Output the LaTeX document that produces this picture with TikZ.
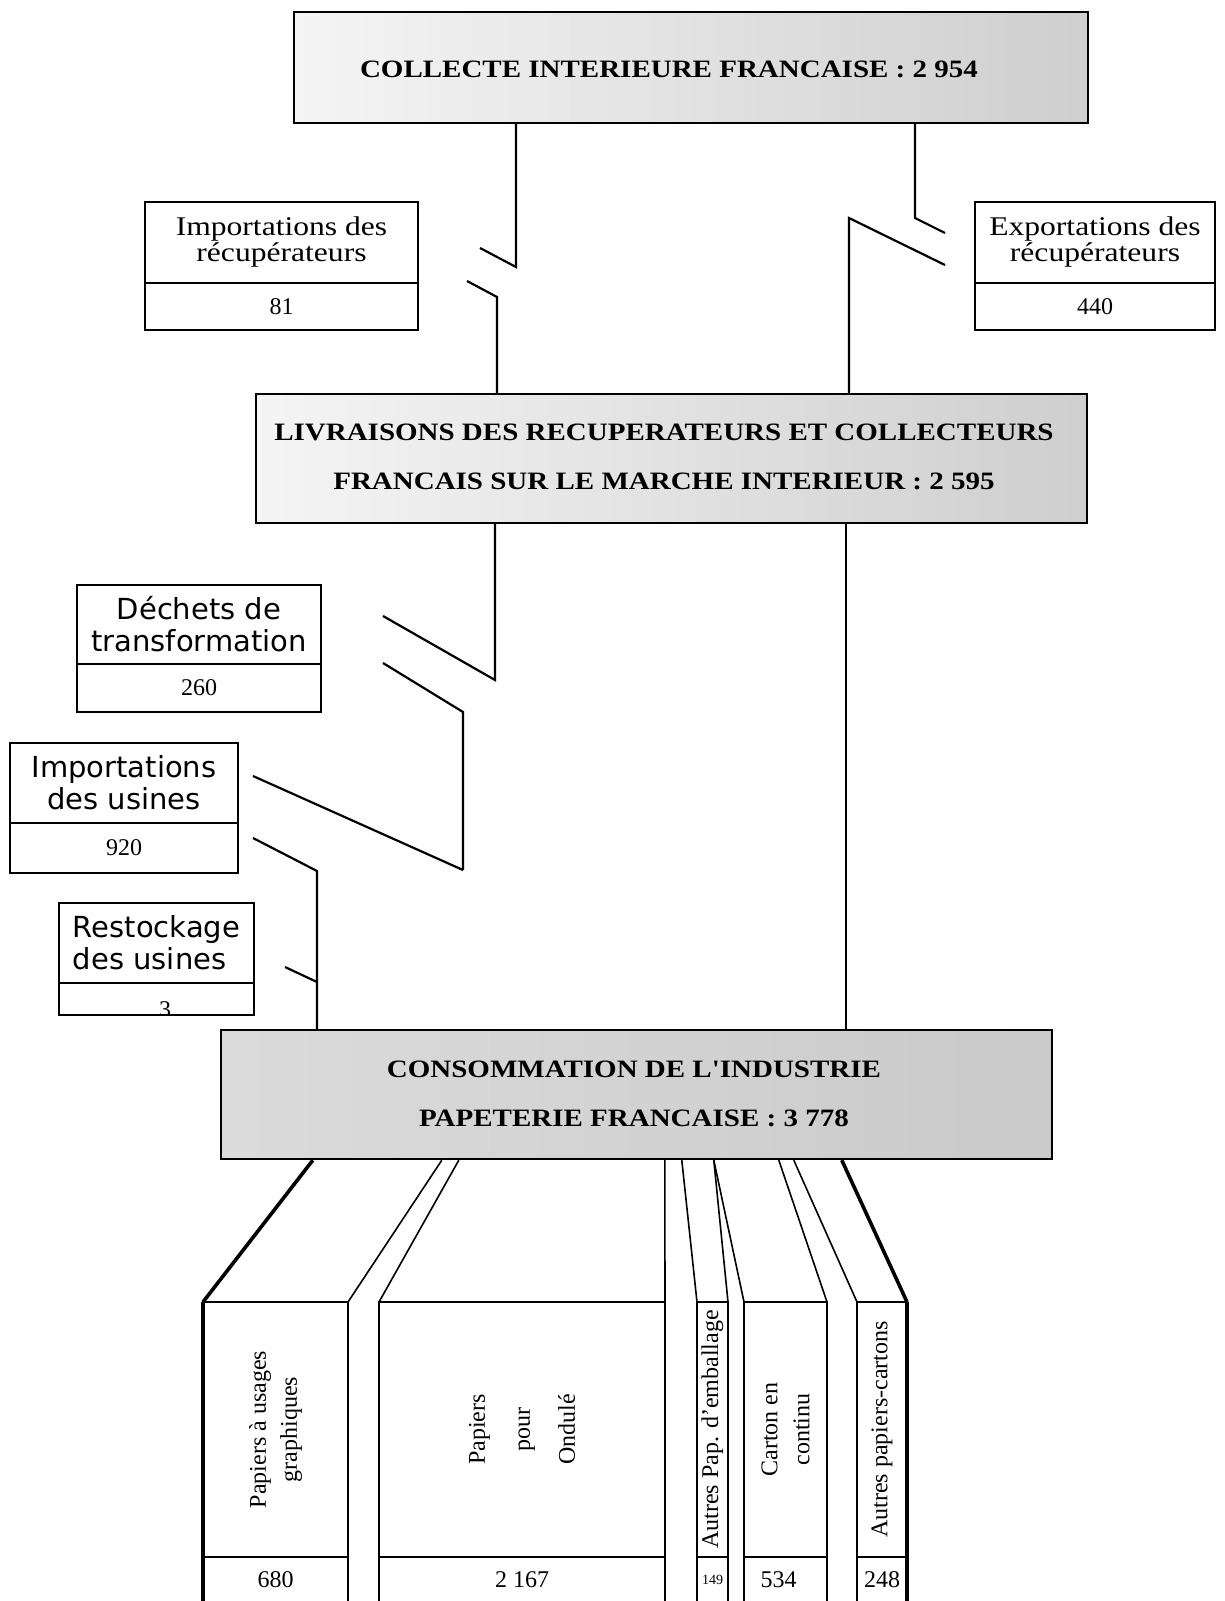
\documentclass[tikz,border=0pt]{standalone}
\usepackage{fontspec}
\setmainfont{Liberation Serif}
\newfontfamily\headfont[FakeStretch=1.16]{Liberation Serif}
\newfontfamily\boxfont[FakeStretch=1.17]{Liberation Serif}
\newfontfamily\geneva{DejaVu Sans}

\begin{document}
\begin{tikzpicture}[x=0.5pt, y=-0.5pt,
    bigbox/.style={draw, line width=1.2pt, inner sep=0pt},
    headtxt/.style={font=\headfont\bfseries\fontsize{12.5pt}{24.5pt}\selectfont, align=center, inner sep=0pt},
    cell/.style={draw, line width=1pt, inner sep=0pt, outer sep=0pt, align=center},
    col/.style={draw, line width=0.8pt, inner sep=0pt, outer sep=0pt},
    rectxt/.style={font=\boxfont\fontsize{13.5pt}{13pt}\selectfont},
    usitxt/.style={font=\geneva\fontsize{14.5pt}{16pt}\selectfont},
    numtxt/.style={font=\fontsize{12pt}{14pt}\selectfont},
    coltxt/.style={rotate=90, align=center, inner sep=0pt, font=\fontsize{12pt}{15.5pt}\selectfont},
    flow/.style={line width=1.1pt},
    branch/.style={line width=0.8pt},
    heavy/.style={line width=1.8pt}]

    \clip (0,0) rectangle (1225,1601);
    \fill[white] (0,0) rectangle (1225,1601);

    % Stages
    \node[bigbox, minimum width=397pt, minimum height=55.5pt, left color=black!4, right color=black!19] (collecte) at (691,67.5) {};
    \node[headtxt] at (669,69) {COLLECTE INTERIEURE FRANCAISE : 2 954};

    \node[bigbox, minimum width=415.5pt, minimum height=64.5pt, left color=black!4, right color=black!19] (livraisons) at (671.5,458.5) {};
    \node[headtxt] at (664,457) {LIVRAISONS DES RECUPERATEURS ET COLLECTEURS\\FRANCAIS SUR LE MARCHE INTERIEUR : 2 595};

    \node[bigbox, minimum width=415.5pt, minimum height=64.5pt, left color=black!14, right color=black!21] (conso) at (636.5,1094.5) {};
    \node[headtxt] at (634,1094) {CONSOMMATION DE L'INDUSTRIE\\PAPETERIE FRANCAISE : 3 778};

    % Side inputs and outputs
    \node[cell, rectxt, minimum width=136.5pt, minimum height=40.5pt] (imprec) at (281.5,242.5) {Importations des\\récupérateurs};
    \node[cell, numtxt, minimum width=136.5pt, minimum height=23.5pt, anchor=north] (imprec-v) at (imprec.south) {81};

    \node[cell, rectxt, minimum width=120pt, minimum height=40.5pt] (exprec) at (1095,242.5) {Exportations des\\récupérateurs};
    \node[cell, numtxt, minimum width=120pt, minimum height=23.5pt, anchor=north] (exprec-v) at (exprec.south) {440};

    \node[cell, usitxt, minimum width=122pt, minimum height=39.5pt] (dechets) at (199,624.5) {Déchets de\\transformation};
    \node[cell, numtxt, minimum width=122pt, minimum height=24pt, anchor=north] (dechets-v) at (dechets.south) {260};

    \node[cell, usitxt, minimum width=114pt, minimum height=40pt] (impusi) at (124,783) {Importations\\des usines};
    \node[cell, numtxt, minimum width=114pt, minimum height=25pt, anchor=north] (impusi-v) at (impusi.south) {920};

    \node[cell, usitxt, align=left, minimum width=97.5pt, minimum height=40pt] (restock) at (156.5,943) {Restockage\\des usines};
    \node[cell, minimum width=97.5pt, minimum height=16pt, anchor=north] (restock-v) at (restock.south) {};
    \begin{scope}
        \clip (restock-v.north west) rectangle (restock-v.south east);
        \node[numtxt] at (165,1010) {3};
    \end{scope}

    % Flows between the stages
    \coordinate (ra) at (516,267);
    \coordinate (rb) at (480,248);
    \coordinate (rc) at (467,281);
    \coordinate (rd) at (497,297);
    \draw[flow] (collecte.south -| ra) -- (ra) -- (rb);
    \draw[flow] (rc) -- (rd) -- (livraisons.north -| rd);

    \coordinate (ea) at (915,218);
    \coordinate (eb) at (945,233);
    \coordinate (ec) at (945,265);
    \coordinate (ed) at (849,218);
    \draw[flow] (collecte.south -| ea) -- (ea) -- (eb);
    \draw[flow] (ec) -- (ed) -- (livraisons.north -| ed);

    \coordinate (da) at (495,680);
    \coordinate (db) at (383,616);
    \coordinate (dc) at (383,663);
    \coordinate (dd) at (463,712);
    \coordinate (de) at (463,870);
    \coordinate (ua) at (253,776);
    \coordinate (ub) at (253,838);
    \coordinate (uc) at (317,871);
    \coordinate (sa) at (285,967);
    \coordinate (sb) at (317,982);
    \coordinate (la) at (846,700);
    \draw[flow] (livraisons.south -| da) -- (da) -- (db);
    \draw[flow] (dc) -- (dd) -- (de);
    \draw[flow] (ua) -- (de);
    \draw[flow] (ub) -- (uc) -- (conso.north -| uc);
    \draw[flow] (sa) -- (sb);
    \draw[flow] (livraisons.south -| la) -- (conso.north -| la);

    % Uses of the consumption
    \node[col, minimum width=72.5pt, minimum height=127.5pt] (graph) at (275.5,1429.5) {};
    \node[col, minimum width=143pt, minimum height=127.5pt] (ondule) at (522,1429.5) {};
    \node[col, minimum width=15.5pt, minimum height=127.5pt] (apap) at (712.5,1429.5) {};
    \node[col, minimum width=41.5pt, minimum height=127.5pt] (carton) at (785.5,1429.5) {};
    \node[col, minimum width=25pt, minimum height=127.5pt] (apc) at (882,1429.5) {};

    \node[coltxt] at (graph) {Papiers à usages\\graphiques};
    \node[coltxt, font=\fontsize{12pt}{22.5pt}\selectfont] at (ondule) {Papiers\\pour\\Ondulé};
    \node[coltxt] at (apap) {Autres Pap. d'emballage};
    \node[coltxt, font=\fontsize{12pt}{16pt}\selectfont] at (carton) {Carton en\\continu};
    \node[coltxt] at (apc) {Autres papiers-cartons};

    \node[col, numtxt, minimum width=72.5pt, minimum height=23pt, anchor=north] (graph-v) at (graph.south) {680};
    \node[col, numtxt, minimum width=143pt, minimum height=23pt, anchor=north] (ondule-v) at (ondule.south) {2 167};
    \node[col, font=\fontsize{7pt}{8pt}\selectfont, minimum width=15.5pt, minimum height=23pt, anchor=north] (apap-v) at (apap.south) {149};
    \node[col, numtxt, minimum width=41.5pt, minimum height=23pt, anchor=north] (carton-v) at (carton.south) {\hspace*{-7pt}534};
    \node[col, numtxt, minimum width=25pt, minimum height=23pt, anchor=north] (apc-v) at (apc.south) {248};

    \draw[heavy] (graph-v.south west) -- (graph.north west);
    \draw[heavy] (apc-v.south east) -- (apc.north east);

    \draw[heavy] (conso.south west) ++(93,0) -- (graph.north west);
    \foreach \dx/\to in {222/graph.north east, 239/ondule.north west, 445/ondule.north east,
                         462/apap.north west, 494/apap.north east, 494/carton.north west,
                         559/carton.north east, 574/apc.north west}
        \draw[branch] (conso.south west) ++(\dx,0) -- (\to);
    \draw[heavy] (conso.south west) ++(622,0) -- (apc.north east);
\end{tikzpicture}
\end{document}
